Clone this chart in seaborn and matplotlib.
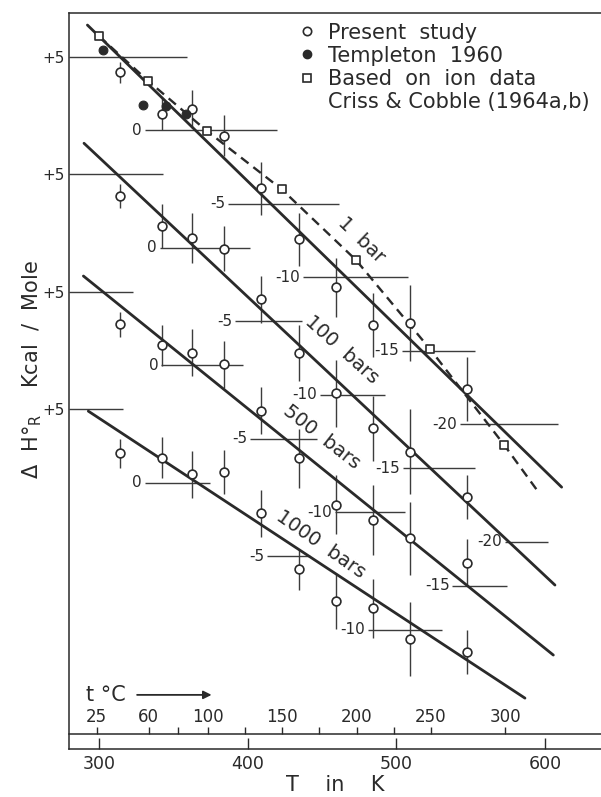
import numpy as np
import pandas as pd
import matplotlib
matplotlib.use("Agg")
import matplotlib.pyplot as plt
import seaborn as sns
from matplotlib.lines import Line2D

# ------------------------------------------------------------------ data
OFFSET = 8.0          # kcal shift between successive pressure curves on the sheet
pressures = ["1 bar", "100 bars", "500 bars", "1000 bars"]

# Present study (temperature in K, Delta H in kcal/mole, +- error)
T_study = [314.1, 342.3, 362.1, 384.0, 409.1, 434.3, 459.3, 484.4, 509.3, 547.3]
dH_1bar = [3.93, 1.09, 1.41, -0.39, -3.97, -7.42, -10.70, -13.27, -13.11, -17.62]
dH_100bar = [3.51, 1.50, 0.63, -0.06, -3.52, -7.19, -9.91, -12.29, -13.88, -16.99]
dH_500bar = [2.78, 1.37, 0.85, 0.06, -3.10, -6.33, -9.48, -10.53, -11.78, -13.44]
dH_1000bar = [2.01, 1.71, 0.58, 0.76, -2.07, -5.88, -8.04, -8.54, -10.63, -11.49]
err_1bar = [0.7, 1.1, 1.3, 1.4, 1.8, 1.8, 2.0, 2.2, 2.6, 2.2]
err_100bar = [0.8, 1.5, 1.7, 1.5, 1.6, 1.9, 2.3, 2.2, 2.9, 1.5]
err_500bar = [0.85, 1.4, 1.6, 1.6, 1.6, 2.0, 2.0, 2.4, 2.5, 1.6]
err_1000bar = [1.0, 1.4, 1.6, 1.5, 1.6, 1.4, 1.9, 2.0, 2.5, 1.5]

# Templeton 1960 (1 bar)
T_templeton = [302.6, 329.1, 344.8, 358.2]
dH_templeton = [5.44, 1.70, 1.63, 1.09]

# Based on ion data, Criss & Cobble (1964a,b) (1 bar), dashed curve
T_criss = [299.7, 332.9, 372.2, 422.7, 472.7, 522.6, 572.6]
dH_criss = [6.39, 3.33, -0.05, -4.03, -8.84, -14.90, -21.43]
T_criss_curve = [299.7, 332.9, 372.2, 422.7, 472.7, 522.6, 572.6, 594.6]
dH_criss_curve = [6.39, 3.33, -0.05, -4.03, -8.84, -14.90, -21.43, -24.49]

# straight fitted lines (end points)
fit_T_1bar, fit_dH_1bar = [291.9, 611.2], [7.14, -24.29]
fit_T_100bar, fit_dH_100bar = [289.6, 606.7], [7.10, -22.95]
fit_T_500bar, fit_dH_500bar = [289.2, 605.6], [6.07, -19.71]
fit_T_1000bar, fit_dH_1000bar = [292.5, 586.5], [4.88, -14.64]

# local Delta H reference marks for each curve: value, from T, to T
ref_1bar_val = [5, 0, -5, -10, -15, -20]
ref_1bar_from = [279.5, 330.6, 386.5, 437.0, 503.7, 542.8]
ref_1bar_to = [358.7, 419.3, 461.3, 507.7, 552.9, 609.0]
ref_100bar_val = [5, 0, -5, -10, -15, -20]
ref_100bar_from = [279.5, 340.7, 391.2, 448.5, 504.4, 573.0]
ref_100bar_to = [343.0, 401.3, 436.2, 492.3, 552.9, 602.0]
ref_500bar_val = [5, 0, -5, -10, -15]
ref_500bar_from = [279.5, 341.4, 401.3, 458.6, 537.7]
ref_500bar_to = [322.8, 396.8, 446.3, 505.7, 574.2]
ref_1000bar_val = [5, 0, -5, -10]
ref_1000bar_from = [279.5, 330.6, 413.1, 480.8]
ref_1000bar_to = [316.0, 374.4, 441.8, 530.4]

# curve label placement (T, Delta H) and angle
curve_label_T = [476.5, 463.3, 449.8, 449.2]
curve_label_dH = [-7.45, -14.97 + 8, -20.88 + 16, -28.16 + 24]
curve_label_rot = [-44, -42, -38, -35]
curve_label_txt = ["1  bar", "100  bars", "500  bars", "1000  bars"]

K_ticks = [300, 400, 500, 600]
C_ticks = [25, 60, 100, 150, 200, 250, 300]
C_minor = [80, 125, 175, 225]

# ------------------------------------------------------------------ frames
study_dH = [dH_1bar, dH_100bar, dH_500bar, dH_1000bar]
study_err = [err_1bar, err_100bar, err_500bar, err_1000bar]
rows = []
for k, p in enumerate(pressures):
    for T, h, e in zip(T_study, study_dH[k], study_err[k]):
        rows.append(dict(pressure=p, T=T, dH=h, err=e, y=h - k * OFFSET))
df = pd.DataFrame(rows)

fitT = [fit_T_1bar, fit_T_100bar, fit_T_500bar, fit_T_1000bar]
fitH = [fit_dH_1bar, fit_dH_100bar, fit_dH_500bar, fit_dH_1000bar]
frows = []
for k, p in enumerate(pressures):
    for T, h in zip(fitT[k], fitH[k]):
        frows.append(dict(pressure=p, T=T, y=h - k * OFFSET))
dfit = pd.DataFrame(frows)

refs = [(ref_1bar_val, ref_1bar_from, ref_1bar_to),
        (ref_100bar_val, ref_100bar_from, ref_100bar_to),
        (ref_500bar_val, ref_500bar_from, ref_500bar_to),
        (ref_1000bar_val, ref_1000bar_from, ref_1000bar_to)]

# ------------------------------------------------------------------ style
sns.set_theme(style="white")
plt.rcParams["font.family"] = ["DejaVu Sans"]
ink = "#2a2a2a"
thin = "#3c3c3c"

W, H = 601, 797
fig = plt.figure(figsize=(W / 100, H / 100), dpi=100)
ax_l, ax_r, ax_t, ax_b = 69, 601, 12.7, 749
ax = fig.add_axes([ax_l / W, 1 - ax_b / H, (ax_r - ax_l) / W, (ax_b - ax_t) / H])
ax.set_xlim(279.5, 637.7)
ax.set_ylim(-42.1, 7.98)

# reference marks
for k, (vals, t0, t1) in enumerate(refs):
    for v, a, b in zip(vals, t0, t1):
        yy = v - k * OFFSET
        ax.plot([a, b], [yy, yy], color=thin, lw=1.0, solid_capstyle="butt", zorder=2)
        if v != 5:
            ax.annotate(f"{v}", xy=(a, yy), xytext=(-2, 0), textcoords="offset points",
                        ha="right", va="center", fontsize=11, color=ink, zorder=3)

# error bars
ax.errorbar(df["T"], df["y"], yerr=df["err"], fmt="none", ecolor=thin,
            elinewidth=1.0, capsize=0, zorder=2)

# fitted straight lines
sns.lineplot(data=dfit, x="T", y="y", units="pressure", estimator=None, sort=False,
             color=ink, lw=2.0, ax=ax, zorder=4)

# dashed curve based on ion data
sns.lineplot(x=T_criss_curve, y=dH_criss_curve, estimator=None, sort=False,
             color=ink, lw=1.7, linestyle=(0, (4, 2.6)), ax=ax, zorder=4)

# markers
sns.scatterplot(data=df, x="T", y="y", marker="o", s=40, facecolor="white",
                edgecolor=ink, linewidth=1.2, ax=ax, zorder=6)
sns.scatterplot(x=T_templeton, y=dH_templeton, marker="o", s=40, color=ink,
                edgecolor=ink, linewidth=0.8, ax=ax, zorder=6)
sns.scatterplot(x=T_criss, y=dH_criss, marker="s", s=36, facecolor="white",
                edgecolor=ink, linewidth=1.2, ax=ax, zorder=6)

# curve labels
for T, h, r, t, k in zip(curve_label_T, curve_label_dH, curve_label_rot,
                         curve_label_txt, range(4)):
    ax.text(T, h - k * OFFSET, t, rotation=r, rotation_mode="anchor",
            ha="center", va="center", fontsize=14, color=ink, zorder=5)

# axes / spines
for s in ["top", "left", "bottom"]:
    ax.spines[s].set_visible(True)
    ax.spines[s].set_color(ink)
    ax.spines[s].set_linewidth(1.1)
ax.spines["right"].set_visible(False)

ax.set_xticks(K_ticks)
ax.set_xticklabels([str(t) for t in K_ticks])
ax.tick_params(axis="x", direction="in", length=8, width=1, color=ink,
               labelsize=12.5, labelcolor=ink, pad=4, bottom=True, top=False)
ax.set_yticks([5 - k * OFFSET for k in range(4)])
ax.set_yticklabels(["+5"] * 4)
ax.tick_params(axis="y", length=0, labelsize=11, labelcolor=ink, pad=3, left=True)

ax.set_xlabel("T    in    K", fontsize=15, color=ink, labelpad=2)
ax.set_ylabel("Δ  H°$_{\\mathregular{R}}$    Kcal  /  Mole", fontsize=15, color=ink)
ax.yaxis.set_label_coords(-0.047, 0.515)

# Celsius scale
loc = (ax_b - 734) / (ax_b - ax_t)
secax = ax.secondary_xaxis(loc, functions=(lambda k: k - 273.15, lambda c: c + 273.15))
secax.set_xticks(C_ticks)
secax.set_xticklabels([str(c) for c in C_ticks])
secax.set_xticks(C_minor, minor=True)
secax.tick_params(axis="x", which="both", direction="out", top=True, bottom=False,
                  labeltop=True, labelbottom=False, length=5, width=1, color=ink,
                  labelsize=12, labelcolor=ink, pad=1)
for s in secax.spines.values():
    s.set_color(ink)
    s.set_linewidth(1.1)

ax.text(0.032, 0.074, "t °C", transform=ax.transAxes, fontsize=15, color=ink,
        ha="left", va="center")
ax.annotate("", xy=(0.268, 0.0735), xytext=(0.128, 0.0735), xycoords="axes fraction",
            arrowprops=dict(arrowstyle="-|>", lw=1.3, color=ink, mutation_scale=12,
                            shrinkA=0, shrinkB=0))

# legend
handles = [
    Line2D([], [], ls="none", marker="o", ms=6, mfc="white", mec=ink, mew=1.2),
    Line2D([], [], ls="none", marker="o", ms=6, mfc=ink, mec=ink),
    Line2D([], [], ls="none", marker="s", ms=5.5, mfc="white", mec=ink, mew=1.2),
    Line2D([], [], ls="none"),
]
labels = ["Present  study", "Templeton  1960", "Based  on  ion  data",
          "Criss & Cobble (1964a,b)"]
leg = ax.legend(handles, labels, loc="upper left", bbox_to_anchor=(0.432, 0.9865),
                frameon=False, fontsize=15, handlelength=0.8, handletextpad=0.6,
                borderpad=0, borderaxespad=0, labelspacing=0.15)
for t in leg.get_texts():
    t.set_color(ink)

fig.savefig("out.png", dpi=100, facecolor="white")
